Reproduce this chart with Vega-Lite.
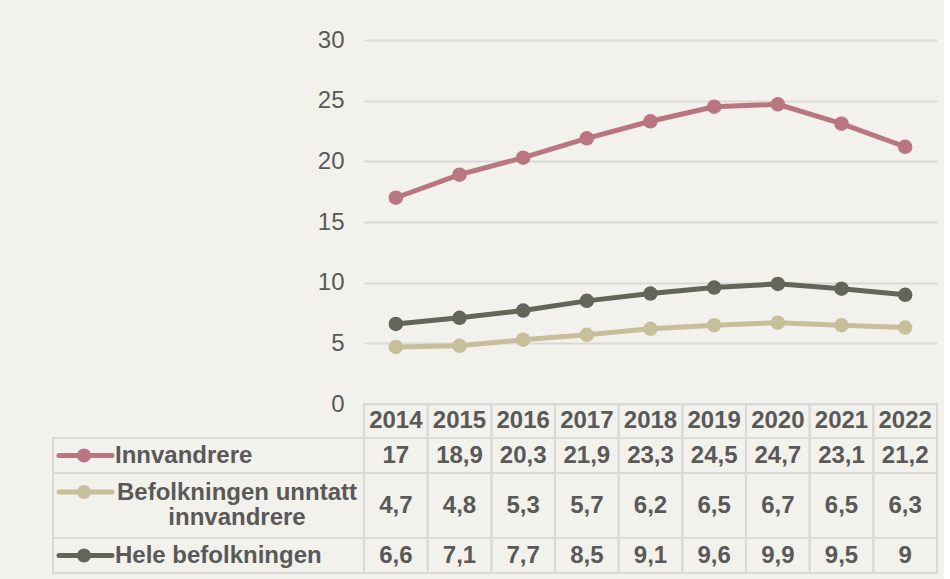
{
  "$schema": "https://vega.github.io/schema/vega-lite/v6.json",
  "background": "#f2f1eb",
  "padding": {"left": 52, "top": 28, "right": 5, "bottom": 5},
  "bounds": "flush",
  "align": "each",
  "spacing": 0,
  "columns": 2,
  "config": {
    "font": "Liberation Sans",
    "view": {"stroke": "#d9d9d9", "strokeWidth": 2},
    "locale": {"number": {"decimal": ",", "thousands": " ", "grouping": [3], "currency": ["", " kr"]}},
    "text": {"font": "Liberation Sans", "fontSize": 24, "fontWeight": "bold", "color": "#595959"}
  },
  "datasets": {
    "d": [
      {"year": "2014", "series": "Innvandrere", "value": 17},
      {"year": "2015", "series": "Innvandrere", "value": 18.9},
      {"year": "2016", "series": "Innvandrere", "value": 20.3},
      {"year": "2017", "series": "Innvandrere", "value": 21.9},
      {"year": "2018", "series": "Innvandrere", "value": 23.3},
      {"year": "2019", "series": "Innvandrere", "value": 24.5},
      {"year": "2020", "series": "Innvandrere", "value": 24.7},
      {"year": "2021", "series": "Innvandrere", "value": 23.1},
      {"year": "2022", "series": "Innvandrere", "value": 21.2},
      {"year": "2014", "series": "Befolkningen unntatt innvandrere", "value": 4.7},
      {"year": "2015", "series": "Befolkningen unntatt innvandrere", "value": 4.8},
      {"year": "2016", "series": "Befolkningen unntatt innvandrere", "value": 5.3},
      {"year": "2017", "series": "Befolkningen unntatt innvandrere", "value": 5.7},
      {"year": "2018", "series": "Befolkningen unntatt innvandrere", "value": 6.2},
      {"year": "2019", "series": "Befolkningen unntatt innvandrere", "value": 6.5},
      {"year": "2020", "series": "Befolkningen unntatt innvandrere", "value": 6.7},
      {"year": "2021", "series": "Befolkningen unntatt innvandrere", "value": 6.5},
      {"year": "2022", "series": "Befolkningen unntatt innvandrere", "value": 6.3},
      {"year": "2014", "series": "Hele befolkningen", "value": 6.6},
      {"year": "2015", "series": "Hele befolkningen", "value": 7.1},
      {"year": "2016", "series": "Hele befolkningen", "value": 7.7},
      {"year": "2017", "series": "Hele befolkningen", "value": 8.5},
      {"year": "2018", "series": "Hele befolkningen", "value": 9.1},
      {"year": "2019", "series": "Hele befolkningen", "value": 9.6},
      {"year": "2020", "series": "Hele befolkningen", "value": 9.9},
      {"year": "2021", "series": "Hele befolkningen", "value": 9.5},
      {"year": "2022", "series": "Hele befolkningen", "value": 9}
    ],
    "labels": [
      {"series": "Innvandrere", "label": "Innvandrere"},
      {"series": "Befolkningen unntatt innvandrere", "label": "Befolkningen unntatt\ninnvandrere"},
      {"series": "Hele befolkningen", "label": "Hele befolkningen"}
    ]
  },
  "concat": [
    {
      "width": 311, "height": 364,
      "view": {"stroke": null},
      "data": {"values": [{}]},
      "mark": {"type": "text", "text": ""},
      "encoding": {}
    },
    {
      "width": 573, "height": 364,
      "view": {"stroke": null},
      "data": {"name": "d"},
      "mark": {"type": "line", "strokeWidth": 5, "point": {"filled": true, "size": 210, "opacity": 1}},
      "encoding": {
        "x": {"field": "year", "type": "ordinal", "axis": null},
        "y": {"field": "value", "type": "quantitative", "scale": {"domain": [0, 30]},
              "axis": {"values": [0, 5, 10, 15, 20, 25, 30], "title": null, "domain": false, "ticks": false,
                       "gridColor": "#d9d9d9", "gridWidth": 2, "labelFontSize": 24, "labelColor": "#595959",
                       "labelFont": "Liberation Sans", "labelPadding": 20}},
        "color": {"field": "series", "type": "nominal", "legend": null,
                  "scale": {"domain": ["Innvandrere", "Befolkningen unntatt innvandrere", "Hele befolkningen"],
                            "range": ["#b97580", "#c7be9a", "#63655a"]}}
      }
    },
    {
      "width": 311, "height": 34,
      "view": {"stroke": null},
      "data": {"values": [{}]},
      "mark": {"type": "text", "text": ""},
      "encoding": {}
    },
    {
      "width": 573, "height": 34,
      "data": {"name": "d"},
      "transform": [{"filter": "datum.series === 'Innvandrere'"}],
      "encoding": {"x": {"field": "year", "type": "ordinal", "axis": null, "scale": {"type": "band", "paddingInner": 0, "paddingOuter": 0}}},
      "layer": [
        {"mark": {"type": "rect", "fill": null, "fillOpacity": 0, "stroke": "#d9d9d9", "strokeWidth": 2}},
        {"mark": {"type": "text", "baseline": "middle"}, "encoding": {"text": {"field": "year"}}}
      ]
    },
    {
      "width": 311, "height": 35,
      "data": {"name": "labels"},
      "transform": [{"filter": "datum.series === 'Innvandrere'"}],
      "encoding": {"color": {"field": "series", "type": "nominal", "legend": null,
                  "scale": {"domain": ["Innvandrere", "Befolkningen unntatt innvandrere", "Hele befolkningen"],
                            "range": ["#b97580", "#c7be9a", "#63655a"]}}},
      "layer": [
        {"mark": {"type": "rule", "strokeWidth": 5, "strokeCap": "round"}, "encoding": {"x": {"value": 6}, "x2": {"value": 59}, "y": {"value": 17.5}}},
        {"mark": {"type": "point", "filled": true, "size": 200, "opacity": 1}, "encoding": {"x": {"value": 31}, "y": {"value": 17.5}}},
        {"mark": {"type": "text", "align": "left", "baseline": "middle"}, "encoding": {"x": {"value": 62}, "y": {"value": 17.5}, "text": {"field": "label"}, "color": {"value": "#595959"}}}
      ]
    },
    {
      "width": 573, "height": 35,
      "data": {"name": "d"},
      "transform": [{"filter": "datum.series === 'Innvandrere'"}],
      "encoding": {"x": {"field": "year", "type": "ordinal", "axis": null, "scale": {"type": "band", "paddingInner": 0, "paddingOuter": 0}}},
      "layer": [
        {"mark": {"type": "rect", "fill": null, "fillOpacity": 0, "stroke": "#d9d9d9", "strokeWidth": 2}},
        {"mark": {"type": "text", "baseline": "middle"}, "encoding": {"text": {"field": "value", "type": "quantitative", "format": ".1~f"}}}
      ]
    },
    {
      "width": 311, "height": 65,
      "data": {"name": "labels"},
      "transform": [{"filter": "datum.series === 'Befolkningen unntatt innvandrere'"}],
      "encoding": {"color": {"field": "series", "type": "nominal", "legend": null,
                  "scale": {"domain": ["Innvandrere", "Befolkningen unntatt innvandrere", "Hele befolkningen"],
                            "range": ["#b97580", "#c7be9a", "#63655a"]}}},
      "layer": [
        {"mark": {"type": "rule", "strokeWidth": 5, "strokeCap": "round"}, "encoding": {"x": {"value": 6}, "x2": {"value": 59}, "y": {"value": 19}}},
        {"mark": {"type": "point", "filled": true, "size": 200, "opacity": 1}, "encoding": {"x": {"value": 31}, "y": {"value": 19}}},
        {"mark": {"type": "text", "align": "center", "baseline": "middle", "lineBreak": "\n", "lineHeight": 25}, "encoding": {"x": {"value": 184}, "y": {"value": 20}, "text": {"field": "label"}, "color": {"value": "#595959"}}}
      ]
    },
    {
      "width": 573, "height": 65,
      "data": {"name": "d"},
      "transform": [{"filter": "datum.series === 'Befolkningen unntatt innvandrere'"}],
      "encoding": {"x": {"field": "year", "type": "ordinal", "axis": null, "scale": {"type": "band", "paddingInner": 0, "paddingOuter": 0}}},
      "layer": [
        {"mark": {"type": "rect", "fill": null, "fillOpacity": 0, "stroke": "#d9d9d9", "strokeWidth": 2}},
        {"mark": {"type": "text", "baseline": "middle"}, "encoding": {"text": {"field": "value", "type": "quantitative", "format": ".1~f"}}}
      ]
    },
    {
      "width": 311, "height": 35,
      "data": {"name": "labels"},
      "transform": [{"filter": "datum.series === 'Hele befolkningen'"}],
      "encoding": {"color": {"field": "series", "type": "nominal", "legend": null,
                  "scale": {"domain": ["Innvandrere", "Befolkningen unntatt innvandrere", "Hele befolkningen"],
                            "range": ["#b97580", "#c7be9a", "#63655a"]}}},
      "layer": [
        {"mark": {"type": "rule", "strokeWidth": 5, "strokeCap": "round"}, "encoding": {"x": {"value": 6}, "x2": {"value": 59}, "y": {"value": 17.5}}},
        {"mark": {"type": "point", "filled": true, "size": 200, "opacity": 1}, "encoding": {"x": {"value": 31}, "y": {"value": 17.5}}},
        {"mark": {"type": "text", "align": "left", "baseline": "middle"}, "encoding": {"x": {"value": 62}, "y": {"value": 17.5}, "text": {"field": "label"}, "color": {"value": "#595959"}}}
      ]
    },
    {
      "width": 573, "height": 35,
      "data": {"name": "d"},
      "transform": [{"filter": "datum.series === 'Hele befolkningen'"}],
      "encoding": {"x": {"field": "year", "type": "ordinal", "axis": null, "scale": {"type": "band", "paddingInner": 0, "paddingOuter": 0}}},
      "layer": [
        {"mark": {"type": "rect", "fill": null, "fillOpacity": 0, "stroke": "#d9d9d9", "strokeWidth": 2}},
        {"mark": {"type": "text", "baseline": "middle"}, "encoding": {"text": {"field": "value", "type": "quantitative", "format": ".1~f"}}}
      ]
    }
  ]
}
